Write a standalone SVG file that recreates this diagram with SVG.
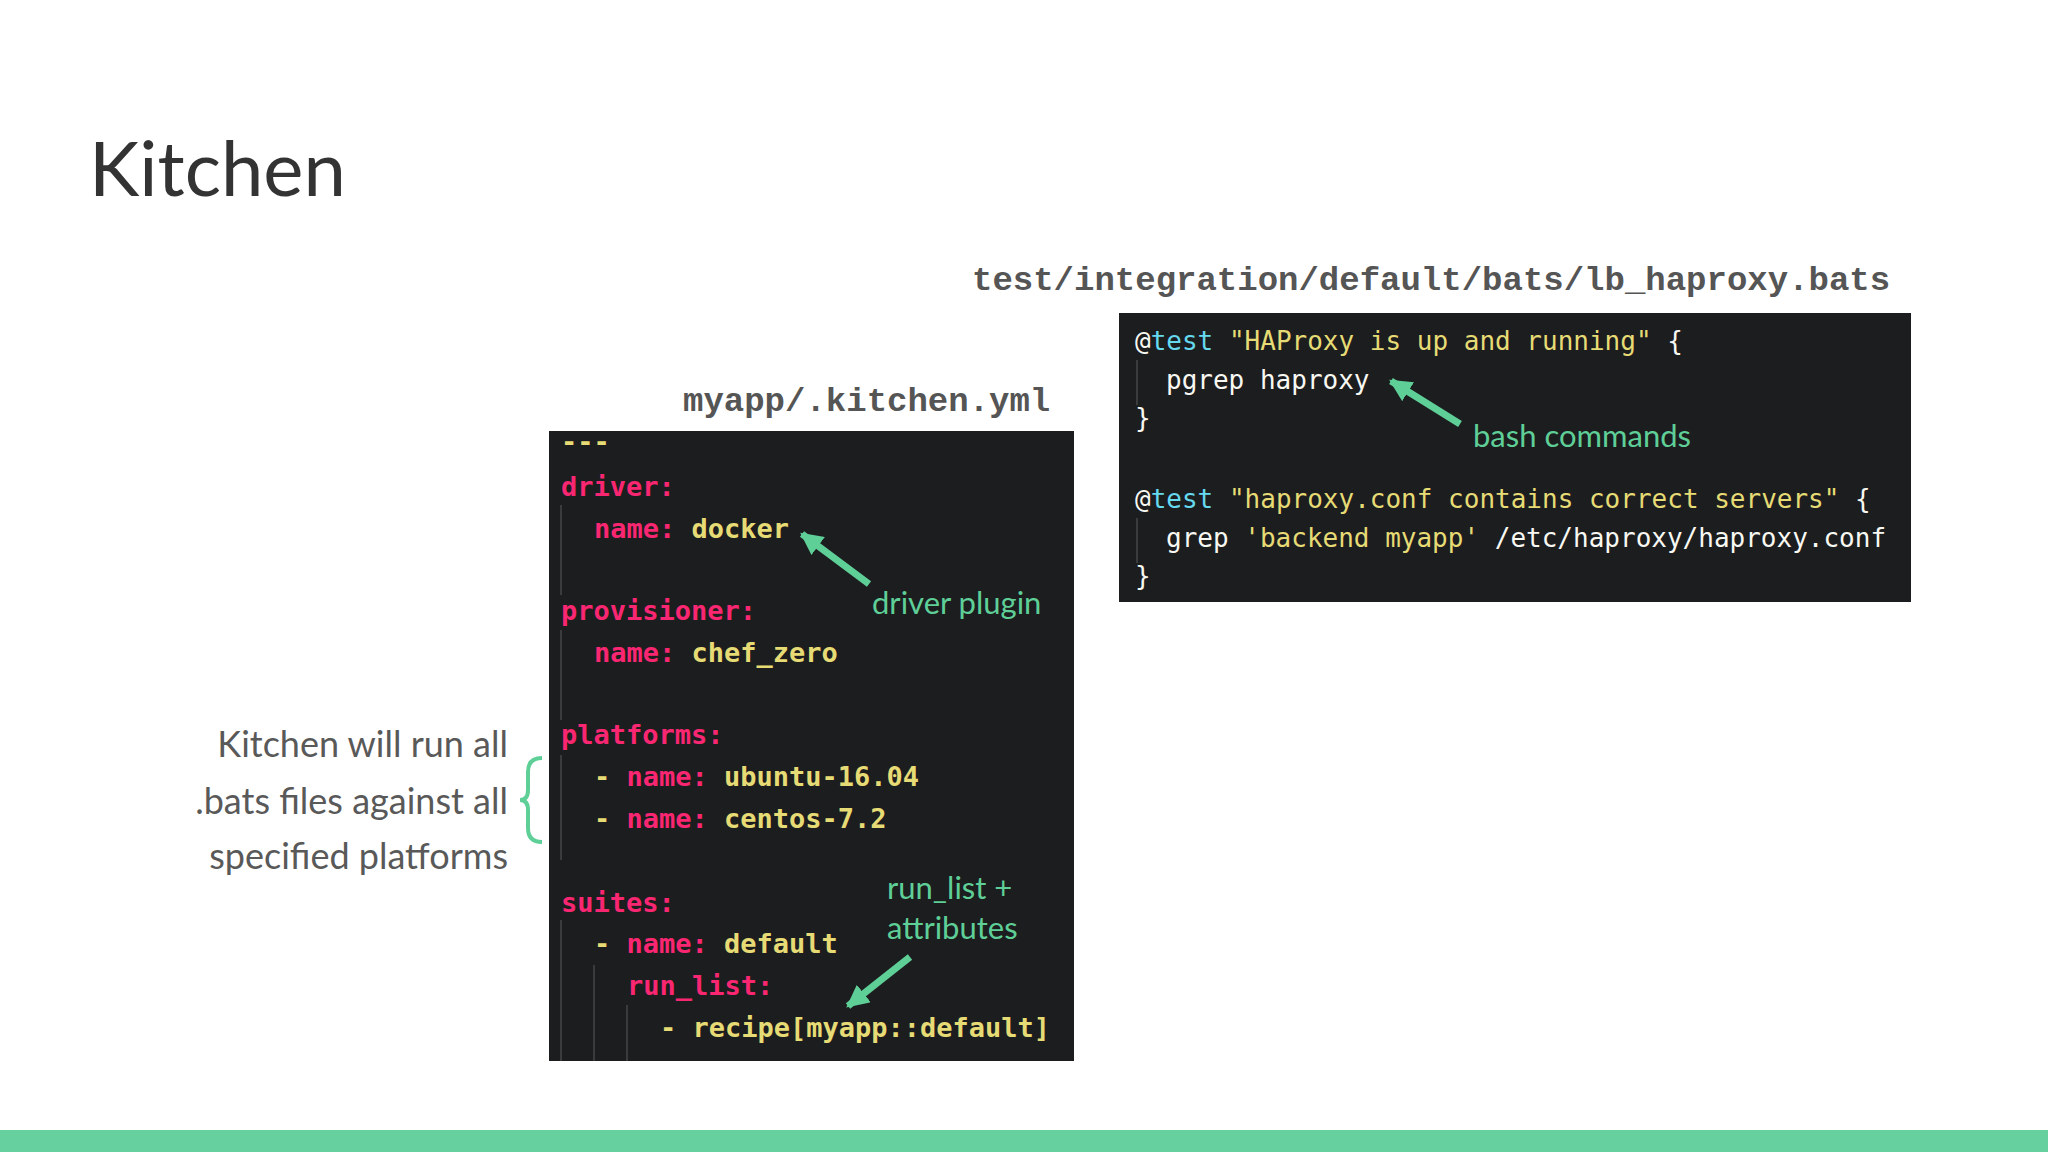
<svg xmlns="http://www.w3.org/2000/svg" width="2048" height="1152" viewBox="0 0 2048 1152">
<defs>
<style>
.m{font-family:"DejaVu Sans Mono","Liberation Mono",monospace;font-weight:bold;font-size:27px}
.b{font-family:"DejaVu Sans Mono","Liberation Mono",monospace;font-size:26px}
.k{fill:#f92672}.v{fill:#e6db74}.w{fill:#f8f8f2}.c{fill:#66d9ef}
.g{font-family:"Lato","Open Sans",sans-serif;font-size:31px;fill:#5fcf98}
.fn{font-family:"Liberation Mono",monospace;font-weight:bold;font-size:34px;fill:#555}
.guide{stroke:#3a3b3d;stroke-width:2}
</style>
<marker id="ah" viewBox="0 0 10 10" refX="9" refY="5" markerWidth="3.2" markerHeight="3.2" orient="auto"><path d="M0,0L10,5L0,10z" fill="#5fcf98"/></marker>
</defs>
<rect width="2048" height="1152" fill="#fff"/>
<text x="89" y="196" font-family="Lato,'Open Sans',sans-serif" font-size="76" fill="#333">Kitchen</text>
<rect x="0" y="1130" width="2048" height="22" fill="#66d19e"/>

<g id="yaml">
<text class="fn" x="683" y="411">myapp/.kitchen.yml</text>
<rect x="549" y="431" width="525" height="630" fill="#1c1d1f"/>
<line class="guide" x1="561" y1="505" x2="561" y2="595"/>
<line class="guide" x1="561" y1="630" x2="561" y2="720"/>
<line class="guide" x1="561" y1="755" x2="561" y2="860"/>
<line class="guide" x1="561" y1="920" x2="561" y2="1061"/>
<line class="guide" x1="594" y1="965" x2="594" y2="1061"/>
<line class="guide" x1="627" y1="1005" x2="627" y2="1061"/>
<text class="m" x="561" y="451"><tspan class="v">---</tspan></text>
<text class="m" x="561" y="496"><tspan class="k">driver:</tspan></text>
<text class="m" x="594" y="538"><tspan class="k">name:</tspan><tspan class="v"> docker</tspan></text>
<text class="m" x="561" y="620"><tspan class="k">provisioner:</tspan></text>
<text class="m" x="594" y="662"><tspan class="k">name:</tspan><tspan class="v"> chef_zero</tspan></text>
<text class="m" x="561" y="744"><tspan class="k">platforms:</tspan></text>
<text class="m" x="594" y="786"><tspan class="v">- </tspan><tspan class="k">name:</tspan><tspan class="v"> ubuntu-16.04</tspan></text>
<text class="m" x="594" y="828"><tspan class="v">- </tspan><tspan class="k">name:</tspan><tspan class="v"> centos-7.2</tspan></text>
<text class="m" x="561" y="912"><tspan class="k">suites:</tspan></text>
<text class="m" x="594" y="953"><tspan class="v">- </tspan><tspan class="k">name:</tspan><tspan class="v"> default</tspan></text>
<text class="m" x="627" y="995"><tspan class="k">run_list:</tspan></text>
<text class="m" x="660" y="1037"><tspan class="v">- recipe[myapp::default]</tspan></text>
</g>

<g id="bats">
<text class="fn" x="972" y="290">test/integration/default/bats/lb_haproxy.bats</text>
<rect x="1119" y="313" width="792" height="289" fill="#1c1d1f"/>
<line class="guide" x1="1137" y1="360" x2="1137" y2="405"/>
<line class="guide" x1="1137" y1="518" x2="1137" y2="563"/>
<text class="b" x="1135" y="350"><tspan class="w">@</tspan><tspan class="c">test</tspan><tspan class="v"> "HAProxy is up and running"</tspan><tspan class="w"> {</tspan></text>
<text class="b w" x="1166" y="389">pgrep haproxy</text>
<text class="b w" x="1135" y="427">}</text>
<text class="b" x="1135" y="508"><tspan class="w">@</tspan><tspan class="c">test</tspan><tspan class="v"> "haproxy.conf contains correct servers"</tspan><tspan class="w"> {</tspan></text>
<text class="b" x="1166" y="547"><tspan class="w">grep </tspan><tspan class="v">'backend myapp'</tspan><tspan class="w"> /etc/haproxy/haproxy.conf</tspan></text>
<text class="b w" x="1135" y="585">}</text>
</g>

<g id="notes">
<text class="g" x="872" y="614">driver plugin</text>
<text class="g" x="1473" y="447">bash commands</text>
<text class="g" x="887" y="899">run_list +</text>
<text class="g" x="887" y="939">attributes</text>
<g font-family="Lato,'Open Sans',sans-serif" font-size="36" fill="#595959" text-anchor="end">
<text x="508" y="757">Kitchen will run all</text>
<text x="508" y="814">.bats files against all</text>
<text x="508" y="869">specified platforms</text>
</g>
<path d="M542,758 Q528,758 528,772 L528,790 Q528,800 520,800 Q528,800 528,810 L528,828 Q528,842 542,842" fill="none" stroke="#5fcf98" stroke-width="4"/>
</g>

<g id="connectors" stroke="#5fcf98" stroke-width="7" fill="none">
<line x1="869" y1="584" x2="802" y2="534" marker-end="url(#ah)"/>
<line x1="1460" y1="424" x2="1391" y2="381" marker-end="url(#ah)"/>
<line x1="910" y1="957" x2="848" y2="1006" marker-end="url(#ah)"/>
</g>
</svg>
